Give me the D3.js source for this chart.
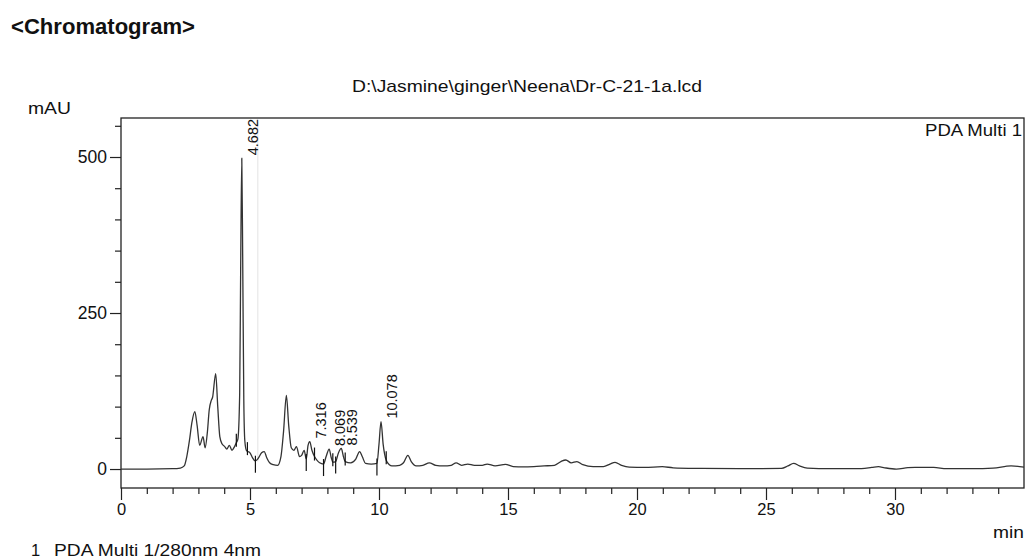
<!DOCTYPE html>
<html>
<head>
<meta charset="utf-8">
<script src="https://cdn.jsdelivr.net/npm/d3@7"></script>
<style>
  html, body { margin: 0; padding: 0; background: #fff; }
  svg { display: block; font-family: "Liberation Sans", Arial, Helvetica, sans-serif; }
</style>
</head>
<body>
<svg id="chart" width="1026" height="559"></svg>
<script>
// Retention time (min) of each trace sample
const times = [0, 1, 2, 2.3, 2.45, 2.55, 2.65, 2.75, 2.86, 2.95, 3.05, 3.18, 3.26, 3.35, 3.42, 3.5, 3.55, 3.67, 3.75, 3.83, 3.92, 4.02, 4.1, 4.2, 4.3, 4.4, 4.47, 4.53, 4.6, 4.64, 4.682, 4.72, 4.76, 4.8, 4.86, 4.92, 5.0, 5.1, 5.2, 5.3, 5.45, 5.55, 5.65, 5.76, 5.9, 6.07, 6.2, 6.3, 6.41, 6.5, 6.6, 6.7, 6.8, 6.92, 7.0, 7.1, 7.18, 7.25, 7.316, 7.4, 7.5, 7.6, 7.7, 7.85, 7.95, 8.069, 8.15, 8.21, 8.32, 8.42, 8.539, 8.62, 8.69, 8.9, 9.1, 9.25, 9.35, 9.48, 9.7, 9.92, 10.0, 10.078, 10.16, 10.28, 10.4, 10.5, 10.8, 10.95, 11.12, 11.25, 11.44, 11.7, 11.95, 12.2, 12.5, 12.8, 12.99, 13.2, 13.44, 13.7, 14.0, 14.19, 14.5, 14.9, 15.2, 15.6, 16.0, 16.4, 16.8, 17.05, 17.24, 17.45, 17.67, 17.9, 18.3, 18.7, 18.95, 19.15, 19.4, 19.7, 20.3, 20.98, 21.4, 22.5, 24, 25.6, 25.85, 26.07, 26.3, 26.6, 27.5, 28.5, 29.1, 29.36, 29.6, 30.05, 30.5, 30.78, 31.5, 32, 33, 33.8, 34.5, 35];
// Detector response (mAU) at each sample
const absorbance = [0, 0, 0.5, 1.5, 5, 20, 45, 75, 92, 70, 38, 52, 34, 60, 95, 110, 115, 153, 100, 52, 40, 36, 32, 38, 30, 36, 42, 48, 120, 330, 498, 320, 110, 45, 30, 28, 26, 18, 13, 16, 26, 28, 18, 10, 7, 6, 20, 60, 118, 70, 34, 30, 36, 20, 22, 30, 16, 38, 44, 30, 20, 14, 10, 8, 20, 32, 18, 11, 12, 25, 33, 20, 12, 10, 16, 28, 20, 9, 8, 9, 40, 76, 40, 14, 7, 5, 6, 10, 22, 12, 5, 6, 10, 6, 5, 6, 10, 6, 8, 6, 6, 8, 5, 7.5, 4, 3.5, 4, 5, 6, 12, 14.5, 10, 12, 7, 4, 4, 8, 10.7, 6, 3, 2.5, 3.7, 2, 1, 0.5, 1, 5, 9, 5, 1.5, 0.5, 0.5, 2.5, 3.7, 2, 0, 2.2, 2.7, 2.7, 0.5, 0.5, 1.5, 5, 3];

// Labelled peaks (retention time in min)
const peakLabels = ["4.682", "7.316", "8.069", "8.539", "10.078"];
// Integration marks: baseline starts and peak ends (min)
const startMarks = [5.21, 7.18, 7.85, 8.32, 9.92];
const endMarks = [4.47, 4.90, 7.50, 8.21, 8.69, 10.28];

const xTickLabels = [0, 5, 10, 15, 20, 25, 30];
const yTickLabels = [0, 250, 500];

const svg = d3.select("#chart");
const plot = { left: 121, right: 1024, top: 118, bottom: 488 };

const x = d3.scaleLinear().domain([0, 35]).range([plot.left, plot.right]);
const y = d3.scaleLinear().domain([-30.4, 562.5]).range([plot.bottom, plot.top]);

const trace = times.map((t, i) => ({ t, v: absorbance[i] }));
const valueAt = t => {
  const i = d3.bisector(d => d.t).left(trace, t);
  if (i <= 0) return trace[0].v;
  const a = trace[i - 1], b = trace[i];
  return a.v + (b.v - a.v) * (t - a.t) / (b.t - a.t);
};

// Text helper: the report font runs slightly wide, so each string gets its set length
function label(xp, yp, size, txt, opts = {}) {
  const t = svg.append("text").attr("x", xp).attr("y", yp)
    .attr("font-size", size).attr("fill", "#111").text(txt);
  if (opts.anchor) t.attr("text-anchor", opts.anchor);
  if (opts.bold) t.attr("font-weight", "bold");
  if (opts.length) t.attr("textLength", opts.length).attr("lengthAdjust", "spacingAndGlyphs");
  if (opts.preserve) t.attr("xml:space", "preserve");
  return t;
}

// Headings
label(11, 34, 22, "<Chromatogram>", { bold: true, length: 184 });
label(352, 92, 17, "D:\\Jasmine\\ginger\\Neena\\Dr-C-21-1a.lcd", { length: 350 });
label(28, 114, 17, "mAU", { length: 43 });
label(925, 136, 16.5, "PDA Multi 1", { length: 97 });
label(993, 538, 17, "min", { length: 31 });
label(31, 556, 16.5, "1", {});
label(54, 556, 16.5, "PDA Multi 1/280nm 4nm", { length: 207 });

// Faint leftover integration line
svg.append("line")
  .attr("x1", x(5.3)).attr("x2", x(5.3))
  .attr("y1", plot.top + 4).attr("y2", y(12))
  .attr("stroke", "#ececec").attr("stroke-width", 1.5);

// Frame
svg.append("rect")
  .attr("x", plot.left).attr("y", plot.top)
  .attr("width", plot.right - plot.left).attr("height", plot.bottom - plot.top)
  .attr("fill", "none").attr("stroke", "#222").attr("stroke-width", 1.3);

// Y axis
const yAxis = d3.axisLeft(y).tickValues(yTickLabels).tickSize(11).tickPadding(3)
  .tickFormat(d3.format("d"));
const gy = svg.append("g").attr("transform", `translate(${plot.left},0)`).call(yAxis);
const yMinor = d3.axisLeft(y).tickValues(d3.range(50, 551, 50).filter(v => v % 250 !== 0))
  .tickSize(6).tickFormat("");
const gym = svg.append("g").attr("transform", `translate(${plot.left},0)`).call(yMinor);

// X axis
const xAxis = d3.axisBottom(x).tickValues(xTickLabels).tickSize(12).tickPadding(3)
  .tickFormat(d3.format("d"));
const gx = svg.append("g").attr("transform", `translate(0,${plot.bottom})`).call(xAxis);
const xMinor = d3.axisBottom(x).tickValues(d3.range(1, 36).filter(v => v % 5 !== 0))
  .tickSize(6).tickFormat("");
const gxm = svg.append("g").attr("transform", `translate(0,${plot.bottom})`).call(xMinor);

[gy, gym, gx, gxm].forEach(g => {
  g.select(".domain").remove();
  g.selectAll(".tick line").attr("stroke", "#222").attr("stroke-width", 1.2);
  g.selectAll(".tick text").attr("fill", "#111").attr("font-family", "Liberation Sans, Arial, sans-serif");
});
gy.selectAll(".tick text").attr("font-size", 17.5);
gx.selectAll(".tick text").attr("font-size", 16.5);

// Chromatogram trace
const line = d3.line().x(d => x(d.t)).y(d => y(d.v)).curve(d3.curveMonotoneX);
svg.append("path").datum(trace)
  .attr("d", line)
  .attr("fill", "none").attr("stroke", "#333").attr("stroke-width", 1.3)
  .attr("stroke-linejoin", "round");

// Integration marks
svg.append("g").selectAll("line").data(startMarks).join("line")
  .attr("x1", d => x(d)).attr("x2", d => x(d))
  .attr("y1", d => y(valueAt(d)) - 5).attr("y2", d => y(valueAt(d)) + 12)
  .attr("stroke", "#111").attr("stroke-width", 1.2);
svg.append("g").selectAll("line").data(endMarks).join("line")
  .attr("x1", d => x(d)).attr("x2", d => x(d))
  .attr("y1", d => y(valueAt(d)) - 9).attr("y2", d => y(valueAt(d)) + 4)
  .attr("stroke", "#111").attr("stroke-width", 1.2);

// Peak retention time labels
svg.append("g").selectAll("text").data(peakLabels).join("text")
  .attr("transform", d => `translate(${x(+d) + 11},${y(valueAt(+d)) - 3}) rotate(-90)`)
  .attr("dy", "0.35em")
  .attr("font-size", 14.5).attr("fill", "#111")
  .text(d => d);
</script>
</body>
</html>
